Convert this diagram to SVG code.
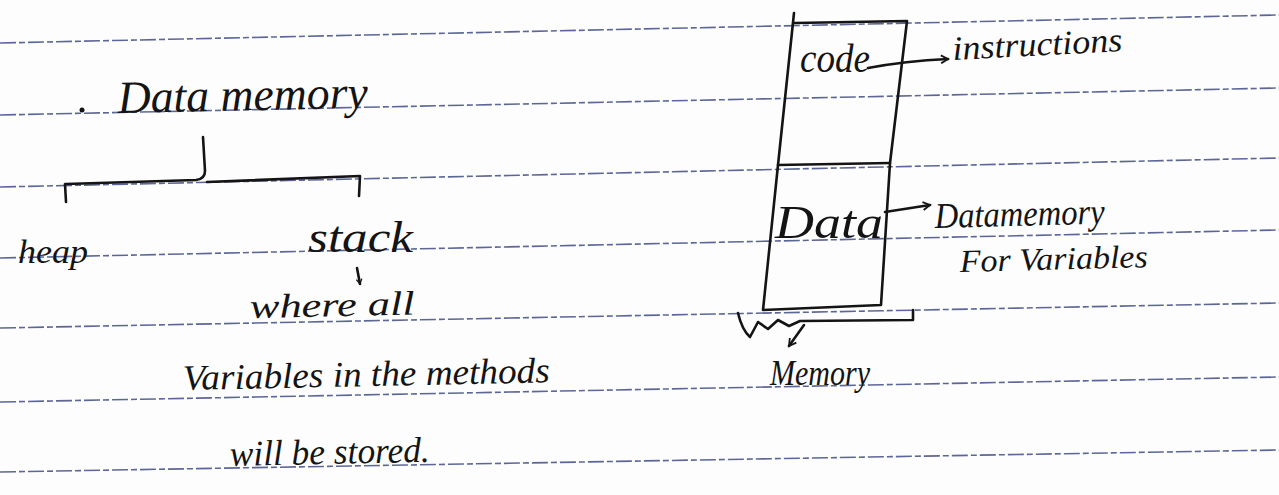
<svg xmlns="http://www.w3.org/2000/svg" width="1279" height="495" viewBox="0 0 1279 495">
<style>
.rule{stroke:#3f4c85;stroke-width:1.6;stroke-dasharray:16 3 6 3;opacity:.85;fill:none}
.ink{stroke:#141414;stroke-width:2.6;fill:none;stroke-linecap:round;stroke-linejoin:round}
.hw{font-family:"Liberation Serif",serif;font-style:italic;fill:#141414}
</style>
<defs>
<marker id="arr" viewBox="0 0 10 10" refX="8" refY="5" markerWidth="7" markerHeight="7" orient="auto" markerUnits="userSpaceOnUse">
<path d="M1,1 L8,5 L1,9" fill="none" stroke="#141414" stroke-width="1.8"/>
</marker>
<marker id="arrS" viewBox="0 0 10 10" refX="8" refY="5" markerWidth="10" markerHeight="10" orient="auto" markerUnits="userSpaceOnUse">
<path d="M1,1 L8,5 L1,9" fill="none" stroke="#141414" stroke-width="1.8"/>
</marker>
</defs>
<rect width="1279" height="495" fill="#fdfdfd"/>
<g id="ruled-lines">
<line class="rule" x1="0" y1="43" x2="1279" y2="15"/>
<line class="rule" x1="0" y1="115" x2="1279" y2="88"/>
<line class="rule" x1="0" y1="187" x2="1279" y2="158"/>
<line class="rule" x1="0" y1="258" x2="1279" y2="230"/>
<line class="rule" x1="0" y1="328" x2="1279" y2="303"/>
<line class="rule" x1="0" y1="402" x2="1279" y2="377"/>
<line class="rule" x1="0" y1="472" x2="1279" y2="450"/>
</g>
<g id="connectors">
<path class="ink" d="M203,137 L205,171 Q205,179 196,180 L66,184 M65,184 L66,202"/>
<path class="ink" d="M207,182 L360,176 L359,196"/>
<path class="ink" d="M357,268 L360,284" marker-end="url(#arr)"/>
<path class="ink" d="M868,68 Q905,61 948,59" marker-end="url(#arrS)"/>
<path class="ink" d="M885,212 L930,205" marker-end="url(#arrS)"/>
<path class="ink" d="M738,313 Q742,330 750,337 L758,322 L768,329 L778,320 L789,326 L800,321 L913,320 L913,310"/>
<path class="ink" d="M804,325 L789,346" marker-end="url(#arrS)"/>
</g>
<g id="data-memory">
<circle cx="82" cy="110" r="2.5" fill="#141414"/>
<text class="hw" x="118" y="113" font-size="46" textLength="250" lengthAdjust="spacingAndGlyphs" transform="rotate(-1.2 118 113)">Data memory</text>
</g>
<g id="heap">
<text class="hw" x="18" y="263" font-size="34" textLength="70" lengthAdjust="spacingAndGlyphs">heap</text>
</g>
<g id="stack">
<text class="hw" x="308" y="252" font-size="44" textLength="105" lengthAdjust="spacingAndGlyphs">stack</text>
</g>
<g id="stack-note">
<text class="hw" x="250" y="318" font-size="34" textLength="165" lengthAdjust="spacingAndGlyphs" transform="rotate(-1.2 250 318)">where all</text>
<text class="hw" x="183" y="390" font-size="36" textLength="367" lengthAdjust="spacingAndGlyphs" transform="rotate(-1.2 183 390)">Variables in the methods</text>
<text class="hw" x="230" y="466" font-size="36" textLength="200" lengthAdjust="spacingAndGlyphs" transform="rotate(-1.2 230 466)">will be stored.</text>
</g>
<g id="memory-box">
<path class="ink" d="M794,13 L778,165 L763,310 L881,305 L890,163 L907,21 L795,23"/>
<path class="ink" d="M778,165 L890,163"/>
<text class="hw" x="800" y="72" font-size="40" textLength="70" lengthAdjust="spacingAndGlyphs">code</text>
<text class="hw" x="775" y="238" font-size="46" textLength="108" lengthAdjust="spacingAndGlyphs">Data</text>
</g>
<g id="instructions">
<text class="hw" x="953" y="60" font-size="34" textLength="170" lengthAdjust="spacingAndGlyphs" transform="rotate(-3 953 60)">instructions</text>
</g>
<g id="data-desc">
<text class="hw" x="935" y="228" font-size="36" textLength="170" lengthAdjust="spacingAndGlyphs" transform="rotate(-1.5 935 228)">Datamemory</text>
<text class="hw" x="960" y="272" font-size="32" textLength="188" lengthAdjust="spacingAndGlyphs" transform="rotate(-1.5 960 272)">For Variables</text>
</g>
<g id="memory-label">
<text class="hw" x="770" y="385" font-size="36" textLength="100" lengthAdjust="spacingAndGlyphs">Memory</text>
</g>
</svg>
